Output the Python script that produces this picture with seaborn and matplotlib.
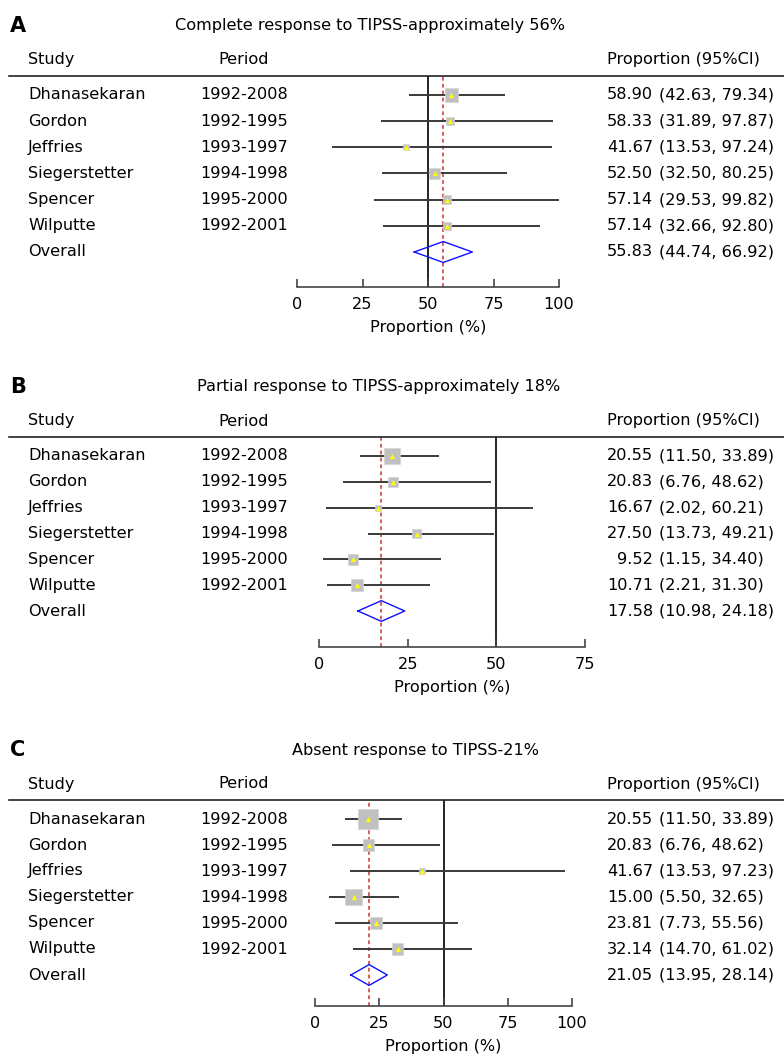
import numpy as np
import pandas as pd
import matplotlib
matplotlib.use("Agg")
import matplotlib.pyplot as plt
import seaborn as sns
from matplotlib.transforms import blended_transform_factory
from matplotlib.lines import Line2D

studies = ["Dhanasekaran", "Gordon", "Jeffries", "Siegerstetter", "Spencer", "Wilputte"]
periods = ["1992-2008", "1992-1995", "1993-1997", "1994-1998", "1995-2000", "1992-2001"]

# panel A - complete response
a_est = [58.90, 58.33, 41.67, 52.50, 57.14, 57.14]
a_lo = [42.63, 31.89, 13.53, 32.50, 29.53, 32.66]
a_hi = [79.34, 97.87, 97.24, 80.25, 99.82, 92.80]
a_all = [55.83, 44.74, 66.92]
a_w = [13, 8, 6, 10, 8, 8]

# panel B - partial response
b_est = [20.55, 20.83, 16.67, 27.50, 9.52, 10.71]
b_lo = [11.50, 6.76, 2.02, 13.73, 1.15, 2.21]
b_hi = [33.89, 48.62, 60.21, 49.21, 34.40, 31.30]
b_all = [17.58, 10.98, 24.18]
b_w = [15, 9, 6, 9, 10, 12]

# panel C - absent response
c_est = [20.55, 20.83, 41.67, 15.00, 23.81, 32.14]
c_lo = [11.50, 6.76, 13.53, 5.50, 7.73, 14.70]
c_hi = [33.89, 48.62, 97.23, 32.65, 55.56, 61.02]
c_all = [21.05, 13.95, 28.14]
c_w = [19, 11, 6, 16, 11, 11]

titles = ["Complete response to TIPSS-approximately 56%",
          "Partial response to TIPSS-approximately 18%",
          "Absent response to TIPSS-21%"]

W, H = 784, 1061
plt.rcParams["font.family"] = ["DejaVu Sans"]
FS = 11.6

fig = plt.figure(figsize=(W / 100, H / 100), dpi=100)


def px_x(x):
    return x / W


def panel(letter, title, title_x, est, lo, hi, overall, weights,
          left, right, top, row1, last, bottom, xmax, ticks):
    ax = fig.add_axes([px_x(left), 1 - bottom / H, (right - left) / W, (bottom - top) / H])
    step = (last - row1) / 6
    ax.set_ylim((bottom - row1) / step, (top - row1) / step)
    ax.set_xlim(0, xmax)
    rows = np.arange(6)

    df = pd.DataFrame({"est": est, "row": rows, "lo": lo, "hi": hi,
                       "w": [(v * 0.75) ** 2 for v in weights]})

    ax.axvline(50, color="black", lw=1.2, zorder=1)
    ax.axvline(overall[0], color="#cc3333", lw=1.1, ls=(0, (2.5, 2)), zorder=1)
    ax.hlines(df["row"], df["lo"], df["hi"], color="#3a3a3a", lw=1.4, zorder=2)
    sns.scatterplot(data=df, x="est", y="row", marker="s", s=df["w"],
                    color="#c0c0c0", edgecolor="#d4d4d4", linewidth=0.5, ax=ax, zorder=3)
    sns.scatterplot(data=df, x="est", y="row", marker="^", s=14,
                    color="#ffff00", linewidth=0, ax=ax, zorder=4)

    # pooled estimate diamond
    m, l, h = overall
    ax.plot([l, m, h, m, l], [6, 6 - 0.4, 6, 6 + 0.4, 6], color="#1010ff", lw=1.0, zorder=4)

    ax.set_xticks(ticks)
    ax.set_yticks([])
    ax.set_xlabel("Proportion (%)", fontsize=FS, labelpad=6)
    ax.set_ylabel("")
    ax.tick_params(axis="x", direction="in", length=6, width=1.2, color="#444444",
                   labelsize=FS, pad=7)
    for s in ["top", "left", "right"]:
        ax.spines[s].set_visible(False)
    ax.spines["bottom"].set_color("#444444")
    ax.spines["bottom"].set_linewidth(1.2)
    ax.set_facecolor("none")

    tr = blended_transform_factory(fig.transFigure, ax.transData)
    hdr = (top - 16 - row1) / step
    ttl = (top - 50 - row1) / step
    ax.text(px_x(10), ttl, letter, transform=tr, fontsize=15, fontweight="bold",
            va="center", ha="left")
    ax.text(px_x(title_x), ttl, title, transform=tr, fontsize=FS, va="center", ha="left")
    ax.text(px_x(28), hdr, "Study", transform=tr, fontsize=FS, va="center")
    ax.text(px_x(218), hdr, "Period", transform=tr, fontsize=FS, va="center")
    ax.text(px_x(607), hdr, "Proportion (95%CI)", transform=tr, fontsize=FS, va="center")
    fig.add_artist(Line2D([px_x(9), 1], [1 - top / H] * 2, color="#222222", lw=1.2))

    names = studies + ["Overall"]
    e_all = list(est) + [m]
    lo_all = list(lo) + [l]
    hi_all = list(hi) + [h]
    for i in range(7):
        ax.text(px_x(28), i, names[i], transform=tr, fontsize=FS, va="center")
        if i < 6:
            ax.text(px_x(200), i, periods[i], transform=tr, fontsize=FS, va="center")
        ax.text(px_x(653), i, f"{e_all[i]:.2f}", transform=tr, fontsize=FS,
                va="center", ha="right")
        ax.text(px_x(659), i, f"({lo_all[i]:.2f}, {hi_all[i]:.2f})", transform=tr,
                fontsize=FS, va="center", ha="left")
    return ax


panel("A", titles[0], 175, a_est, a_lo, a_hi, a_all, a_w,
      297, 559, 76, 95, 252, 287, 100, [0, 25, 50, 75, 100])
panel("B", titles[1], 197, b_est, b_lo, b_hi, b_all, b_w,
      319, 585, 437, 456, 611, 647, 75, [0, 25, 50, 75])
panel("C", titles[2], 292, c_est, c_lo, c_hi, c_all, c_w,
      315, 572, 800, 819, 975, 1006, 100, [0, 25, 50, 75, 100])

fig.savefig("out.png", dpi=100, facecolor="white")
